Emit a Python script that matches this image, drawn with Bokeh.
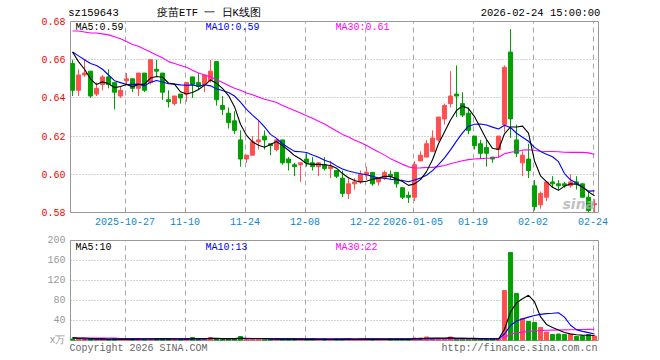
from bokeh.plotting import figure
from bokeh.layouts import column
from bokeh.models import (ColumnDataSource, FixedTicker, Label, Range1d,
                          PrintfTickFormatter, LinearAxis)
from bokeh.embed import file_html
from bokeh.resources import INLINE

symbol = "sz159643"
chart_title = "疫苗ETF 一 日K线图"
timestamp = "2026-02-24 15:00:00"
copyright_text = "Copyright 2026 SINA.COM"
url_text = "http://finance.sina.com.cn"

tick_index = [9, 19, 29, 39, 49, 57, 67, 77, 87]
tick_labels = ["2025-10-27", "11-10", "11-24", "12-08", "12-22",
               "2026-01-05", "01-19", "02-02", "02-24"]

opens = [0.658, 0.644, 0.652, 0.654, 0.642, 0.647, 0.651, 0.648, 0.641, 0.649,
         0.650, 0.645, 0.653, 0.648, 0.655, 0.653, 0.639, 0.637, 0.642, 0.642,
         0.651, 0.648, 0.647, 0.649, 0.659, 0.636, 0.632, 0.628, 0.618, 0.608,
         0.610, 0.617, 0.620, 0.616, 0.613, 0.618, 0.608, 0.605, 0.605, 0.608,
         0.606, 0.604, 0.605, 0.603, 0.602, 0.598, 0.590, 0.595, 0.596, 0.600,
         0.601, 0.596, 0.598, 0.600, 0.601, 0.593, 0.589, 0.588, 0.607, 0.609,
         0.612, 0.618, 0.629, 0.637, 0.642, 0.637, 0.632, 0.620, 0.616, 0.614,
         0.609, 0.613, 0.626, 0.664, 0.618, 0.606, 0.608, 0.594, 0.584, 0.588,
         0.596, 0.595, 0.595, 0.594, 0.596, 0.595, 0.588, 0.584]
highs = [0.660, 0.655, 0.660, 0.654, 0.648, 0.652, 0.655, 0.648, 0.646, 0.653,
         0.650, 0.653, 0.653, 0.660, 0.660, 0.653, 0.644, 0.641, 0.642, 0.648,
         0.651, 0.653, 0.652, 0.660, 0.659, 0.641, 0.635, 0.633, 0.623, 0.610,
         0.620, 0.628, 0.623, 0.616, 0.619, 0.618, 0.609, 0.606, 0.606, 0.611,
         0.609, 0.606, 0.609, 0.607, 0.602, 0.602, 0.598, 0.598, 0.602, 0.604,
         0.601, 0.598, 0.602, 0.602, 0.601, 0.593, 0.591, 0.607, 0.612, 0.618,
         0.623, 0.630, 0.637, 0.654, 0.657, 0.643, 0.635, 0.620, 0.618, 0.618,
         0.609, 0.620, 0.657, 0.676, 0.626, 0.612, 0.616, 0.597, 0.591, 0.596,
         0.599, 0.597, 0.596, 0.600, 0.599, 0.595, 0.591, 0.587]
lows = [0.641, 0.641, 0.651, 0.640, 0.641, 0.644, 0.645, 0.634, 0.640, 0.647,
        0.643, 0.641, 0.643, 0.647, 0.651, 0.639, 0.635, 0.636, 0.637, 0.638,
        0.640, 0.644, 0.643, 0.648, 0.636, 0.631, 0.624, 0.621, 0.604, 0.606,
        0.610, 0.613, 0.613, 0.610, 0.612, 0.605, 0.602, 0.599, 0.596, 0.604,
        0.602, 0.599, 0.602, 0.598, 0.598, 0.588, 0.587, 0.592, 0.595, 0.597,
        0.594, 0.594, 0.597, 0.597, 0.593, 0.587, 0.585, 0.586, 0.607, 0.609,
        0.612, 0.617, 0.626, 0.635, 0.630, 0.630, 0.621, 0.613, 0.608, 0.604,
        0.606, 0.609, 0.622, 0.619, 0.609, 0.599, 0.598, 0.581, 0.582, 0.586,
        0.593, 0.592, 0.593, 0.593, 0.592, 0.588, 0.580, 0.580]
closes = [0.644, 0.652, 0.653, 0.641, 0.645, 0.651, 0.647, 0.643, 0.644, 0.650,
          0.645, 0.653, 0.644, 0.660, 0.654, 0.643, 0.638, 0.641, 0.640, 0.648,
          0.647, 0.646, 0.652, 0.654, 0.639, 0.634, 0.627, 0.623, 0.608, 0.610,
          0.617, 0.618, 0.618, 0.615, 0.618, 0.606, 0.606, 0.604, 0.606, 0.606,
          0.604, 0.606, 0.603, 0.604, 0.599, 0.590, 0.595, 0.596, 0.600, 0.601,
          0.595, 0.598, 0.601, 0.599, 0.595, 0.588, 0.588, 0.605, 0.610, 0.616,
          0.619, 0.630, 0.636, 0.641, 0.641, 0.631, 0.623, 0.615, 0.611, 0.611,
          0.608, 0.620, 0.656, 0.629, 0.611, 0.610, 0.602, 0.583, 0.590, 0.596,
          0.595, 0.594, 0.594, 0.596, 0.595, 0.588, 0.581, 0.584]
# volume in units of 10,000 (万)
volumes = [3, 3, 2, 3, 3, 3, 2, 3, 3, 3,
           3, 3, 3, 3, 4, 3, 3, 2, 3, 3,
           6, 3, 3, 6, 4, 3, 3, 3, 8, 3,
           3, 3, 3, 3, 2, 3, 3, 3, 3, 2,
           3, 2, 3, 2, 3, 3, 3, 2, 3, 3,
           3, 3, 2, 3, 3, 3, 3, 5, 5, 7,
           4, 4, 4, 7, 3, 3, 3, 3, 3, 3,
           3, 3, 100, 176, 94, 44, 38, 36, 26, 17,
           12, 13, 12, 12, 8, 9, 12, 9]

# moving-average values for the first days (window starts before view)
ma5_head = [0.664, 0.659, 0.655, 0.650]
ma10_head = [0.664, 0.662, 0.660, 0.658, 0.657, 0.655, 0.652, 0.649, 0.648]
ma30_head = [0.675, 0.675, 0.6745, 0.674, 0.674, 0.6735, 0.673, 0.672, 0.671, 0.6695,
             0.668, 0.667, 0.6655, 0.664, 0.6625, 0.661, 0.659, 0.658, 0.657, 0.656,
             0.6545, 0.653, 0.652, 0.651, 0.6495, 0.648, 0.6465, 0.645, 0.644]
vma5_head = [5, 4, 3, 3]
vma10_head = [6, 5, 5, 4, 4, 4, 3, 3, 3]
vma30_head = [5, 5, 5, 5, 5, 5, 5, 5, 4, 4, 4, 4, 4, 4, 4, 4, 4, 4, 4, 4,
              4, 4, 4, 4, 4, 4, 4, 4, 4]


def rolling(vals, w, head):
    out = list(head)
    for i in range(len(head), len(vals)):
        out.append(sum(vals[i - w + 1:i + 1]) / w)
    return out


n = len(closes)
idx = list(range(n))
ma5 = rolling(closes, 5, ma5_head)
ma10 = rolling(closes, 10, ma10_head)
ma30 = rolling(closes, 30, ma30_head)
vma5 = rolling(volumes, 5, vma5_head)
vma10 = rolling(volumes, 10, vma10_head)
vma30 = rolling(volumes, 30, vma30_head)

RED = "#ff5050"
GREEN = "#00a000"
GRID = "#a8a8a8"
MONO = "Liberation Mono"

colors = [RED if c >= o else GREEN for o, c in zip(opens, closes)]
body_bot = [min(o, c) for o, c in zip(opens, closes)]
body_top = [max(max(o, c), min(o, c) + 0.0006) for o, c in zip(opens, closes)]

src = ColumnDataSource(dict(x=idx, o=opens, h=highs, l=lows, c=closes,
                            bt=body_top, bb=body_bot, col=colors, v=volumes))

# layout geometry (pixels)
LEFT, RIGHT_B = 70, 62
TOP, BOT = 21, 20
H1 = 232
FRAME_W = 660 - LEFT - RIGHT_B
FRAME_H1 = H1 - TOP - BOT
VTOP, VBOT = 8, 20
H2 = 128
FRAME_H2 = H2 - VTOP - VBOT

XR0, XR1 = -1 / 3, n - 1 / 3
PY0, PY1 = 0.58, 0.68
VY0, VY1 = 0, 200


def xd(px):
    return XR0 + (px - LEFT) * (XR1 - XR0) / FRAME_W


def xq(px):
    # x position (data units) rounded to a quarter slot
    return round(xd(px) * 4) / 4


def yd1(py):
    return PY1 - (py - TOP) * (PY1 - PY0) / FRAME_H1


def yd2(py):
    return VY1 - (py - H1 - VTOP) * (VY1 - VY0) / FRAME_H2


def plain_axis(ax, color, size="10px", standoff=5):
    ax.axis_line_color = None
    ax.major_tick_line_color = None
    ax.minor_tick_line_color = None
    ax.major_tick_out = 0
    ax.major_tick_in = 0
    ax.minor_tick_out = 0
    ax.minor_tick_in = 0
    ax.major_label_text_color = color
    ax.major_label_text_font = MONO
    ax.major_label_text_font_size = size
    ax.major_label_standoff = standoff


tick_pos = [i - 0.25 for i in tick_index]
xr = Range1d(XR0, XR1)

# ---------------- price panel ----------------
p = figure(width=660, height=H1, x_range=xr, y_range=Range1d(PY0, PY1),
           output_backend="svg", toolbar_location=None,
           min_border_left=LEFT, min_border_right=RIGHT_B,
           min_border_top=TOP, min_border_bottom=BOT)
p.outline_line_color = "#999999"
p.outline_line_width = 1

p.xaxis.ticker = FixedTicker(ticks=tick_pos)
p.xaxis.major_label_overrides = {t: lab for t, lab in zip(tick_pos, tick_labels)}
plain_axis(p.xaxis[0], "#0a88d8", standoff=5)
p.xaxis.major_tick_in = 3
p.xaxis.major_tick_line_color = "#999999"

p.yaxis.ticker = FixedTicker(ticks=[0.58, 0.60, 0.62, 0.64, 0.66, 0.68])
p.yaxis.formatter = PrintfTickFormatter(format="%.2f")
plain_axis(p.yaxis[0], "#ff0000", standoff=5)

# header line (symbol, title, time) as labels of a top axis
head_pos = [xq(93.5), xq(208.5), xq(540.5)]
head_txt = [symbol, chart_title, timestamp]
top_axis = LinearAxis(ticker=FixedTicker(ticks=head_pos),
                      major_label_overrides={t: s for t, s in zip(head_pos, head_txt)})
plain_axis(top_axis, "black", size="10.5px", standoff=3)
p.add_layout(top_axis, "above")

p.xgrid.ticker = FixedTicker(ticks=tick_pos)
p.xgrid.grid_line_color = GRID
p.xgrid.grid_line_dash = "5 4"
p.ygrid.ticker = FixedTicker(ticks=[0.60, 0.62, 0.64, 0.66])
p.ygrid.grid_line_color = GRID
p.ygrid.grid_line_dash = "1 2"

p.segment(x0="x", y0="l", x1="x", y1="h", line_color="col", line_width=1, source=src)
p.vbar(x="x", width=0.68, top="bt", bottom="bb", fill_color="col",
       line_color="col", line_width=1, source=src)
p.line(idx, ma30, line_color="#ff00ff", line_width=1.1)
p.line(idx, ma10, line_color="#0000ff", line_width=1.1)
p.line(idx, ma5, line_color="black", line_width=1.1)

for px, txt, col in [(75, f"MA5:{ma5[-1]:.2f}", "black"),
                     (205, f"MA10:{ma10[-1]:.2f}", "#0000ff"),
                     (335, f"MA30:{ma30[-1]:.2f}", "#ff00ff")]:
    p.add_layout(Label(x=xd(px), y=yd1(27), text=txt, text_color=col,
                       text_font=MONO, text_font_size="10px",
                       text_baseline="middle", text_align="left"))

p.add_layout(Label(x=xd(562), y=yd1(203), text="sina", text_color="#b0b0b0",
                   text_alpha=0.8, text_font="DejaVu Sans", text_font_size="14px",
                   text_font_style="bold italic",
                   text_baseline="middle", text_align="left"))

# ---------------- volume panel ----------------
p2 = figure(width=660, height=H2, x_range=xr, y_range=Range1d(VY0, VY1),
            output_backend="svg", toolbar_location=None,
            min_border_left=LEFT, min_border_right=RIGHT_B,
            min_border_top=VTOP, min_border_bottom=VBOT)
p2.outline_line_color = "#999999"
p2.outline_line_width = 1

# footer texts as labels of the bottom axis
foot_pos = [xq(138.5), xq(519.5)]
foot_txt = [copyright_text, url_text]
p2.xaxis.ticker = FixedTicker(ticks=foot_pos)
p2.xaxis.major_label_overrides = {t: s for t, s in zip(foot_pos, foot_txt)}
plain_axis(p2.xaxis[0], "#666666", size="10px", standoff=2)

p2.yaxis.ticker = FixedTicker(ticks=[0, 40, 80, 120, 160, 200])
p2.yaxis.major_label_overrides = {0: "x万"}
plain_axis(p2.yaxis[0], "#999999", standoff=5)

p2.xgrid.ticker = FixedTicker(ticks=tick_pos)
p2.xgrid.grid_line_color = GRID
p2.xgrid.grid_line_dash = "5 4"
p2.ygrid.ticker = FixedTicker(ticks=[40, 80, 120, 160])
p2.ygrid.grid_line_color = GRID
p2.ygrid.grid_line_dash = "1 2"

p2.vbar(x="x", width=0.68, top="v", bottom=0, fill_color="col",
        line_color="col", line_width=1, source=src)
p2.line(idx, vma30, line_color="#ff00ff", line_width=1.1)
p2.line(idx, vma10, line_color="#0000ff", line_width=1.1)
p2.line(idx, vma5, line_color="black", line_width=1.1)

for px, txt, col in [(75, f"MA5:{vma5[-1]:.0f}", "black"),
                     (205, f"MA10:{vma10[-1]:.0f}", "#0000ff"),
                     (335, f"MA30:{vma30[-1]:.0f}", "#ff00ff")]:
    p2.add_layout(Label(x=xd(px), y=yd2(247), text=txt, text_color=col,
                        text_font=MONO, text_font_size="10px",
                        text_baseline="middle", text_align="left"))

layout = column(p, p2, spacing=0)
open("out.html", "w").write(file_html(layout, INLINE))
